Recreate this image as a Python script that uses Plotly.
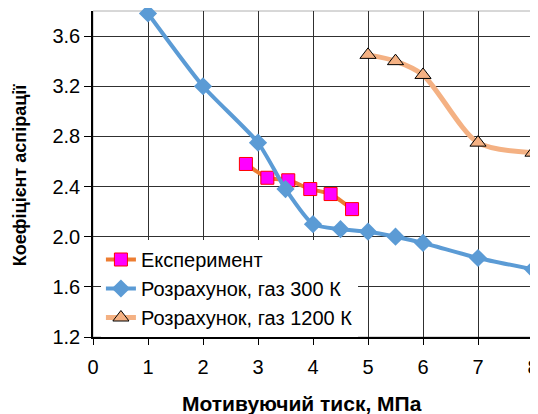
import plotly.graph_objects as go

# Data
exp_x = [2.78, 3.17, 3.55, 3.95, 4.32, 4.71]
exp_y = [2.58, 2.47, 2.45, 2.38, 2.34, 2.22]

calc300_x = [1, 2, 3, 3.5, 4, 4.5, 5, 5.5, 6, 7, 8]
calc300_y = [3.78, 3.20, 2.75, 2.38, 2.10, 2.06, 2.04, 2.00, 1.95, 1.83, 1.74]

calc1200_x = [5, 5.5, 6, 7, 8]
calc1200_y = [3.45, 3.40, 3.29, 2.75, 2.67]

names = ["Експеримент", "Розрахунок, газ 300 К", "Розрахунок, газ 1200 К"]
y_ticks = [1.2, 1.6, 2.0, 2.4, 2.8, 3.2, 3.6]
x_ticks = [0, 1, 2, 3, 4, 5, 6, 7, 8]
x_title = "Мотивуючий тиск, МПа"
y_title = "Коефіцієнт аспірації"

FONT = "Liberation Sans, Arial, sans-serif"

fig = go.Figure()
fig.add_trace(go.Scatter(
    x=exp_x, y=exp_y, name=names[0], mode="lines+markers", cliponaxis=False,
    line=dict(color="#ED7D31", width=4, shape="spline", smoothing=0.6),
    marker=dict(symbol="square", size=13, color="#FF00FF",
                line=dict(color="#FF0000", width=1)),
))
fig.add_trace(go.Scatter(
    x=calc300_x, y=calc300_y, name=names[1], mode="lines+markers", cliponaxis=False,
    line=dict(color="#5B9BD5", width=4, shape="spline", smoothing=0.6),
    marker=dict(symbol="diamond", size=14, color="#5B9BD5"),
))
fig.add_trace(go.Scatter(
    x=calc1200_x, y=calc1200_y, name=names[2], mode="lines+markers", cliponaxis=False,
    line=dict(color="#F4B183", width=5, shape="spline", smoothing=0.8),
    marker=dict(symbol="triangle-up", size=14, color="#F4B183",
                line=dict(color="#000000", width=1)),
))

fig.update_layout(
    width=530, height=406,
    margin=dict(l=85, r=5, t=3, b=77, autoexpand=False),
    paper_bgcolor="white", plot_bgcolor="white",
    font=dict(family=FONT, size=20, color="black"),
    showlegend=True,
    legend=dict(x=0.018, y=0, xanchor="left", yanchor="bottom",
                bgcolor="white", borderwidth=0,
                font=dict(family=FONT, size=20, color="black"),
                tracegroupgap=0),
    shapes=[dict(type="rect", xref="paper", yref="paper", x0=0, y0=0, x1=1, y1=1,
                 line=dict(color="#B0B0B0", width=1), layer="below")],
    annotations=[
        dict(text="<b>" + x_title + "</b>", xref="paper", yref="paper",
             x=0.475, y=-0.2055, xanchor="center", yanchor="middle", showarrow=False,
             font=dict(family=FONT, size=21, color="black")),
        dict(text="<b>" + y_title + "</b>", xref="paper", yref="paper",
             x=-0.167, y=0.495, xanchor="center", yanchor="middle", showarrow=False,
             textangle=-90, font=dict(family=FONT, size=18, color="black")),
    ],
)
fig.update_xaxes(
    range=[0, 8], tickvals=x_ticks, showgrid=True, gridcolor="#303030", gridwidth=1,
    showline=True, linecolor="black", linewidth=1.5, ticks="outside", ticklen=6,
    tickcolor="black", zeroline=False, automargin=False, ticklabelstandoff=5,
    ticklabeloverflow="allow",
    tickfont=dict(family=FONT, size=20),
)
fig.update_yaxes(
    range=[1.2, 3.8], tickvals=y_ticks, tickformat=".1f", showgrid=True,
    gridcolor="#303030", gridwidth=1,
    showline=True, linecolor="black", linewidth=1.5, ticks="outside", ticklen=7,
    tickcolor="black", zeroline=False, automargin=False,
    ticksuffix="\u00a0\u00a0",
    tickfont=dict(family=FONT, size=20),
)

fig.write_html("out.html")
